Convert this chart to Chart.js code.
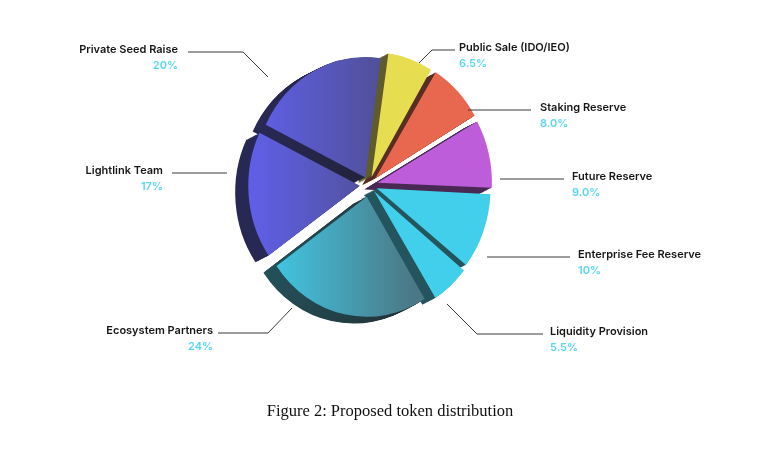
<!DOCTYPE html>
<html>
<head>
<meta charset="utf-8">
<script src="https://cdn.jsdelivr.net/npm/chart.js@4.4.1/dist/chart.umd.min.js"></script>
<style>
html, body { margin: 0; padding: 0; background: #fff; }
#wrap { position: relative; width: 773px; height: 456px; }
#caption { position: absolute; left: 0; width: 780px; top: 401px; text-align: center;
  font-family: 'Liberation Serif', serif; font-size: 16.5px; color: #111; }
</style>
</head>
<body>
<div id="wrap">
  <canvas id="myChart" width="773" height="456"></canvas>
  <div id="caption">Figure 2: Proposed token distribution</div>
</div>
<script>
// slices, clockwise from the top
var Labels = ['Public Sale (IDO/IEO)', 'Staking Reserve', 'Future Reserve', 'Enterprise Fee Reserve',
              'Liquidity Provision', 'Ecosystem Partners', 'Lightlink Team', 'Private Seed Raise'];
var Shares = [6.5, 8.0, 9.0, 10, 5.5, 24, 17, 20];
var ShareText = ['6.5%', '8.0%', '9.0%', '10%', '5.5%', '24%', '17%', '20%'];

// styles
var Colors = ['#e6dd50', '#e8684f', '#bd5dda', '#42cfeb', '#42cfeb',
              ['#40cdea', '#4b7886'], ['#5f5fe6', '#4d4c86'], ['#5f5fe6', '#4d4c86']];
var Offsets = [34, 38, 38, 36, 34, 48, 40, 34];

// label placement: text anchor, alignment, leader line
var LabelLayout = [
  { x: 459, y: 50, align: 'left', line: [[455, 50], [432, 50], [419, 63]] },
  { x: 540, y: 110, align: 'left', line: [[531, 110], [468, 110]] },
  { x: 572, y: 179, align: 'left', line: [[564, 179], [500, 179]] },
  { x: 578, y: 257, align: 'left', line: [[570, 257], [487, 257]] },
  { x: 550, y: 334, align: 'left', line: [[543, 334], [477, 334], [447, 304]] },
  { x: 213, y: 333, align: 'right', line: [[218, 333], [268, 333], [292, 308]] },
  { x: 163, y: 173, align: 'right', line: [[172, 173], [227, 173]] },
  { x: 178, y: 52, align: 'right', line: [[188, 52], [243, 52], [268, 77]] }
];

// squash the pie a little and give it a dark extruded side
var tiltPlugin = {
  id: 'tilt',
  beforeDatasetsDraw: function(chart) {
    var ctx = chart.ctx;
    var a = chart.chartArea;
    var cx = (a.left + a.right) / 2, cy = (a.top + a.bottom) / 2;
    var arcs = chart.getDatasetMeta(0).data;
    ctx.save();
    ctx.translate(cx, cy);
    ctx.scale(0.92, 1);
    ctx.translate(-cx, -cy);
    ctx.save();
    ctx.filter = 'brightness(0.42) saturate(0.8)';
    for (var k = 15; k >= 1; k--) {
      ctx.save();
      ctx.translate(-k * 0.95, k * 0.45);
      arcs.forEach(function(el) { el.draw(ctx, a); });
      ctx.restore();
    }
    ctx.restore();
  },
  afterDatasetsDraw: function(chart) {
    chart.ctx.restore();
  }
};

var labelPlugin = {
  id: 'sliceLabels',
  afterDraw: function(chart) {
    var ctx = chart.ctx;
    ctx.save();
    LabelLayout.forEach(function(l, i) {
      ctx.beginPath();
      ctx.moveTo(l.line[0][0], l.line[0][1]);
      for (var j = 1; j < l.line.length; j++) ctx.lineTo(l.line[j][0], l.line[j][1]);
      ctx.strokeStyle = '#3a3a3a';
      ctx.lineWidth = 1;
      ctx.stroke();
      ctx.textAlign = l.align;
      ctx.textBaseline = 'alphabetic';
      ctx.font = '600 11px Inter';
      ctx.fillStyle = '#161616';
      ctx.fillText(Labels[i], l.x, l.y + 1);
      ctx.fillStyle = '#58d6f1';
      ctx.fillText(ShareText[i], l.x, l.y + 17);
    });
    ctx.restore();
  }
};

var ctx = document.getElementById('myChart');

var myChart = new Chart(ctx, {
  type: 'pie',
  data: {
    labels: Labels,
    datasets: [{
      data: Shares,
      backgroundColor: function(c) {
        var col = Colors[c.dataIndex];
        if (!Array.isArray(col)) return col;
        var area = c.chart.chartArea;
        if (!area) return col[0];
        var cx = (area.left + area.right) / 2;
        var g = c.chart.ctx.createLinearGradient(cx - 115, 0, cx + 50, 0);
        g.addColorStop(0, col[0]);
        g.addColorStop(1, col[1]);
        return g;
      },
      borderWidth: 0,
      offset: Offsets
    }]
  },
  options: {
    responsive: false,
    animation: false,
    events: [],
    rotation: 8,
    radius: 120,
    layout: { padding: { left: 107, right: 142, top: 40, bottom: 126 } },
    plugins: {
      legend: { display: false },
      tooltip: { enabled: false }
    }
  },
  plugins: [tiltPlugin, labelPlugin]
});
</script>
</body>
</html>
